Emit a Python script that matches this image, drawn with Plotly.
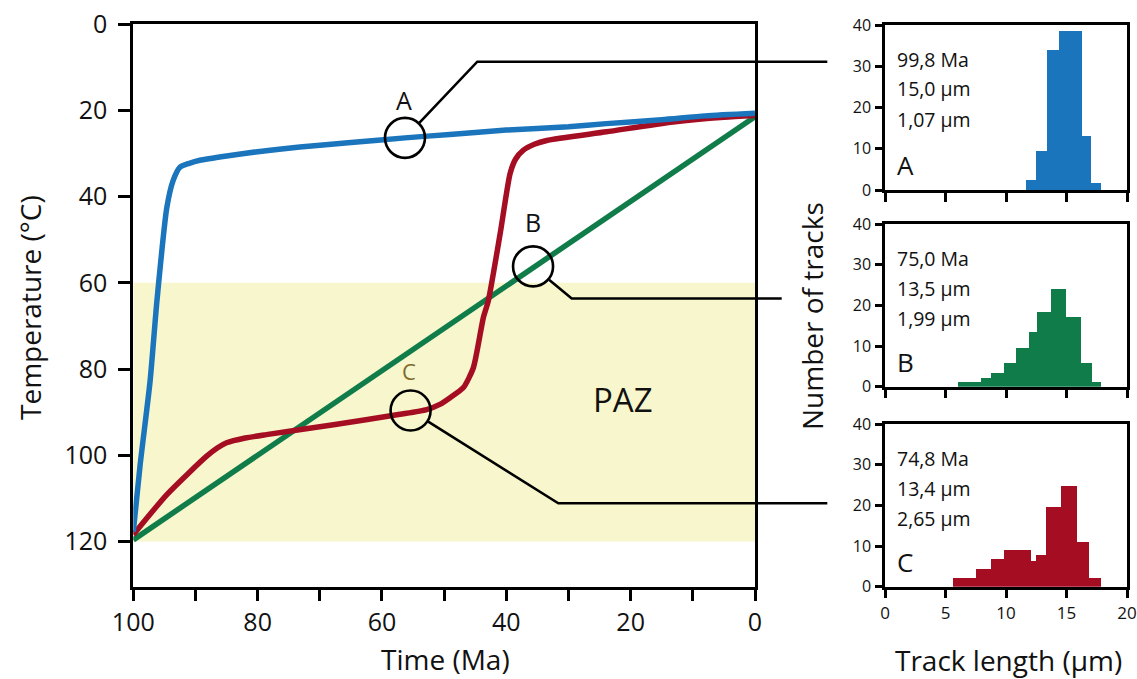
import plotly.graph_objects as go
import math

W, H = 1137, 679
FONT = "Open Sans"

# ---------------- data ----------------
# Main plot: temperature-time paths
time_A = [100, 98.9, 97.3, 96.2, 94.6, 93.6, 92.5, 91.0, 89.3, 85, 80, 73.2, 65, 56.3, 49.1, 40, 30, 23.9, 15, 8, 0]
temp_A = [117.7, 102.2, 82.8, 64.2, 42.5, 36.3, 33.2, 32.3, 31.6, 30.6, 29.6, 28.5, 27.5, 26.4, 25.6, 24.6, 23.8, 23.1, 22.2, 21.3, 20.7]

time_B = [100, 0]
temp_B = [119.6, 21.5]

time_C = [100, 94.6, 88.2, 86.5, 85, 82, 78.6, 67.8, 57.1, 52.8, 50.7, 49.1, 46.9, 45.3, 43.7, 42.9, 41.0, 39.4, 38.5, 37.3, 35.5, 33.5, 23.9, 13.2, 5, 0]
temp_C = [118.4, 109.1, 100.2, 98.3, 97.1, 96.0, 95.2, 92.9, 90.5, 89.4, 88.2, 86.7, 84.3, 79.7, 68.1, 64.2, 48.7, 34.7, 31.3, 29.3, 27.9, 27.0, 25.0, 22.7, 21.6, 21.2]

paz_range = [60, 120]  # partial annealing zone (°C)

sample_labels = ["A", "B", "C"]
sample_time = [56.3, 35.7, 55.4]
sample_temp = [26.4, 56.2, 89.6]

# Histograms: bin edges (µm) and counts
edges_A = [11.66, 12.49, 13.40, 14.42, 15.36, 16.30, 16.99, 17.81]
counts_A = [2.4, 9.5, 34, 38.5, 38.5, 13, 1.6]
stats_A = ["99,8 Ma", "15,0 µm", "1,07 µm"]

edges_B = [6.07, 7.93, 8.76, 9.80, 10.85, 11.87, 12.57, 13.73, 14.99, 16.16, 17.12, 17.87]
counts_B = [1.1, 2.1, 3.3, 5.9, 9.5, 13.4, 18.4, 23.9, 17.2, 5.9, 1.2]
stats_B = ["75,0 Ma", "13,5 µm", "1,99 µm"]

edges_C = [5.66, 7.54, 8.76, 9.80, 12.07, 12.51, 13.34, 14.56, 15.88, 16.85, 17.87]
counts_C = [2.1, 4.3, 6.7, 9.0, 6.4, 7.8, 19.7, 24.8, 11.1, 2.1]
stats_C = ["74,8 Ma", "13,4 µm", "2,65 µm"]

main_xticks = list(range(0, 101, 10))
main_xlabels = [str(v) if v % 20 == 0 else "" for v in main_xticks]
main_yticks = [0, 20, 40, 60, 80, 100, 120]
hist_xticks = [0, 5, 10, 15, 20]
hist_yticks = [0, 10, 20, 30, 40]

# ---------------- styles ----------------
BLUE = "#1b75bc"
GREEN = "#0f7c4a"
RED = "#a50d22"
PAZ_FILL = "#f8f6cc"
C_LABEL = "#7d6b2e"

# pixel layout helpers (margins are zero, so paper == pixels / size)
def px(x):
    return x / W

def py(y):
    return 1 - y / H

MX0, MX1 = 133.3, 755.0   # main plot left/right pixels
MY0, MY1 = 24.0, 587.3    # main plot top/bottom pixels
XR = [100, 0]
YR = [130.6, 0]

def data_to_px(t, T):
    x = MX0 + (t - XR[0]) / (XR[1] - XR[0]) * (MX1 - MX0)
    y = MY0 + (T - YR[1]) / (YR[0] - YR[1]) * (MY1 - MY0)
    return x, y

HX0, HX1 = 885.0, 1127.0
hist_y = {  # (top px of 40, bottom px of 0)
    2: (25.0, 190.0),
    3: (224.0, 386.7),
    4: (424.0, 586.7),
}

fig = go.Figure()

# PAZ band
fig.add_trace(go.Scatter(
    x=[XR[0], XR[1], XR[1], XR[0], XR[0]],
    y=[paz_range[0], paz_range[0], paz_range[1], paz_range[1], paz_range[0]],
    fill="toself", fillcolor=PAZ_FILL, line=dict(width=0), mode="lines",
    hoverinfo="skip", showlegend=False, xaxis="x", yaxis="y"))

for t, T, c in [(time_B, temp_B, GREEN), (time_C, temp_C, RED), (time_A, temp_A, BLUE)]:
    fig.add_trace(go.Scatter(x=t, y=T, mode="lines",
                             line=dict(color=c, width=5.5, shape="spline", smoothing=0.6),
                             showlegend=False, xaxis="x", yaxis="y"))

# sample circles
fig.add_trace(go.Scatter(x=sample_time, y=sample_temp, mode="markers",
                         marker=dict(symbol="circle-open", size=40, color="black",
                                     line=dict(width=2.6, color="black")),
                         showlegend=False, xaxis="x", yaxis="y", cliponaxis=False))

# histograms
for i, (edges, counts, col) in enumerate([(edges_A, counts_A, BLUE),
                                          (edges_B, counts_B, GREEN),
                                          (edges_C, counts_C, RED)]):
    centers = [(edges[k] + edges[k + 1]) / 2 for k in range(len(counts))]
    widths = [edges[k + 1] - edges[k] for k in range(len(counts))]
    ax = i + 2
    fig.add_trace(go.Bar(x=centers, y=counts, width=widths,
                         marker=dict(color=col, line=dict(width=0)),
                         showlegend=False, xaxis=f"x{ax}", yaxis=f"y{ax}"))

axis_common = dict(showgrid=False, zeroline=False, showline=True, linecolor="black",
                   mirror=True, ticks="outside", tickcolor="black", automargin=False)

layout = dict(
    template="none",
    width=W, height=H, margin=dict(l=0, r=0, t=0, b=0, pad=0, autoexpand=False),
    paper_bgcolor="white", plot_bgcolor="rgba(0,0,0,0)",
    font=dict(family=FONT, color="#111"),
    bargap=0,
    xaxis=dict(domain=[px(MX0), px(MX1)], range=XR, anchor="y",
               tickvals=main_xticks, ticktext=main_xlabels,
               ticklen=11, tickwidth=3, linewidth=3,
               tickfont=dict(size=25), ticklabelstandoff=0, **axis_common),
    yaxis=dict(domain=[py(MY1), py(MY0)], range=YR, anchor="x",
               tickvals=main_yticks, ticklen=12, tickwidth=3, linewidth=3,
               tickfont=dict(size=25), ticklabelstandoff=6, **axis_common),
)
for ax in (2, 3, 4):
    top, bot = hist_y[ax]
    layout[f"xaxis{ax}"] = dict(domain=[px(HX0), px(HX1)], range=[0, 20], anchor=f"y{ax}",
                                tickvals=hist_xticks, showticklabels=(ax == 4),
                                ticklen=9, tickwidth=3, linewidth=2.5,
                                tickfont=dict(size=17), **axis_common)
    layout[f"yaxis{ax}"] = dict(domain=[py(bot), py(top)], range=[0, 40], anchor=f"x{ax}",
                                tickvals=hist_yticks, ticklen=7, tickwidth=2.5, linewidth=2.5,
                                tickfont=dict(size=16), ticklabelstandoff=1, **axis_common)
fig.update_layout(**layout)

# leader lines (paper coordinates)
bends = [((477.3, 61.7), (827.3, 61.7)),
         ((571.7, 298.5), (781.7, 298.5)),
         ((558.3, 503.3), (827.3, 503.3))]
R = 20.8
for (t, T), (b, e) in zip(zip(sample_time, sample_temp), bends):
    cx, cy = data_to_px(t, T)
    dx, dy = b[0] - cx, b[1] - cy
    d = math.hypot(dx, dy)
    sx, sy = cx + R * dx / d, cy + R * dy / d
    fig.add_shape(type="path", xref="paper", yref="paper",
                  path=f"M {px(sx)} {py(sy)} L {px(b[0])} {py(b[1])} L {px(e[0])} {py(e[1])}",
                  line=dict(color="black", width=2.6), layer="above")


def note(x, y, text, size, color="#111", xanchor="center", angle=0):
    fig.add_annotation(x=px(x), y=py(y), xref="paper", yref="paper", text=text,
                       showarrow=False, xanchor=xanchor, yanchor="middle",
                       textangle=angle, borderpad=0, font=dict(size=size, color=color))


# sample labels
label_pos = [(404.0, 100.0), (532.7, 221.7), (409.3, 370.7)]
label_col = ["#111", "#111", C_LABEL]
label_size = [25, 25, 22]
for lab, (x, y), c, s in zip(sample_labels, label_pos, label_col, label_size):
    note(x, y, lab, s, c)

# PAZ label
note(622.7, 399.3, "PAZ", 33)

# axis titles
note(445, 659, "Time (Ma)", 28)
note(30, 308, "Temperature (°C)", 28, angle=-90)
note(812, 316, "Number of tracks", 28, angle=-90)
note(1008, 660, "Track length (µm)", 28)

# histogram stats text
for stats, letter, ax in [(stats_A, "A", 2), (stats_B, "B", 3), (stats_C, "C", 4)]:
    top, bot = hist_y[ax]
    for k, s in enumerate(stats):
        note(896, top + 34 + 30 * k, s, 19.5, xanchor="left")
    note(896, bot - 25, letter, 26, xanchor="left")

fig.write_html("out.html")
